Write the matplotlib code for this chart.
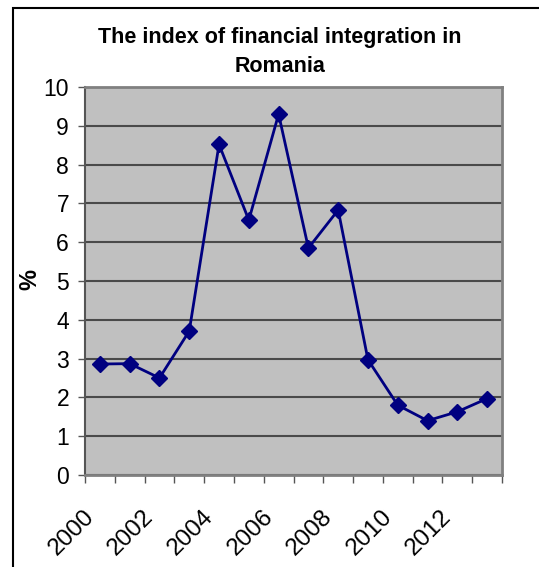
import numpy as np
import matplotlib
matplotlib.use('Agg')
import matplotlib.pyplot as plt
from matplotlib.patches import Rectangle
from matplotlib.transforms import ScaledTranslation

plt.rcParams['font.family'] = ['Liberation Sans', 'DejaVu Sans']

# data
years = ['2000', '2001', '2002', '2003', '2004', '2005', '2006',
         '2007', '2008', '2009', '2010', '2011', '2012', '2013']
index_values = [2.86, 2.87, 2.50, 3.71, 8.52, 6.57, 9.30,
                5.85, 6.83, 2.97, 1.80, 1.40, 1.63, 1.97]
shown_labels = ['2000', '', '2002', '', '2004', '', '2006',
                '', '2008', '', '2010', '', '2012', '']

W, H = 539, 567
fig = plt.figure(figsize=(W / 100, H / 100), dpi=100)
ax = fig.add_axes([85 / W, 1 - 475 / H, (502 - 85) / W, (475 - 87) / H])

x = np.arange(len(years))
ax.set_facecolor('#c0c0c0')
ax.plot(x, index_values, color='#000080', linewidth=2, marker='D',
        markersize=8, zorder=3)

ax.set_xlim(-0.5, len(years) - 0.5)
ax.set_ylim(0, 10)
ax.set_yticks(range(0, 11))
ax.yaxis.grid(True, color='#4a4a4a', linewidth=1.5)
ax.set_axisbelow(True)
ax.tick_params(axis='y', labelsize=16.5, length=5, width=1, color='#555555', pad=6.5)

# category boundaries carry the tick marks, labels sit under the categories
ax.set_xticks(np.arange(len(years) + 1) - 0.5)
ax.set_xticklabels([])
ax.set_xticks(x, minor=True)
ax.set_xticklabels(shown_labels, minor=True, rotation=45, ha='right',
                   rotation_mode='anchor', fontsize=17.5)
ax.tick_params(axis='x', which='major', length=6, width=1, color='#555555')
ax.tick_params(axis='x', which='minor', length=0, pad=22)
offset = ScaledTranslation(-17 / 100, 0, fig.dpi_scale_trans)
for lbl in ax.get_xticklabels(minor=True):
    lbl.set_transform(lbl.get_transform() + offset)

for side in ['top', 'right', 'bottom']:
    ax.spines[side].set_color('#808080')
    ax.spines[side].set_linewidth(2)
ax.spines['left'].set_color('#555555')
ax.spines['left'].set_linewidth(1.5)

fig.text(30 / W, 1 - 279 / H, '%', rotation=90, ha='center', va='center',
         fontsize=17, fontweight='bold')
fig.text(280 / W, 1 - 52 / H, 'The index of financial integration in\nRomania',
         ha='center', va='center', fontsize=15.5, fontweight='bold', linespacing=1.55)

# outer chart border (only left and top are visible in the crop)
fig.patches.append(Rectangle((13 / W, -0.1), 1.2, 1 - 8 / H + 0.1,
                             transform=fig.transFigure, fill=False,
                             edgecolor='black', linewidth=1.5))

fig.savefig('out.png', dpi=100)
